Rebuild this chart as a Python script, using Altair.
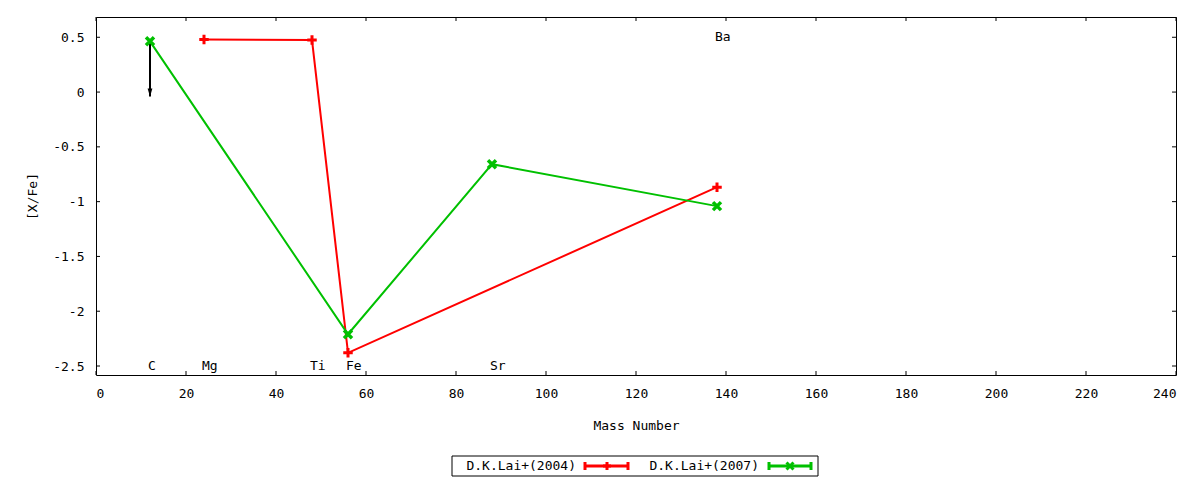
import altair as alt
import pandas as pd

# ---- data ----
lai2004_elem = ["Mg", "Ti", "Fe", "Ba"]
lai2004_mass = [24, 48, 56, 138]
lai2004_val = [0.48, 0.475, -2.38, -0.868]

lai2007_elem = ["C", "Fe", "Sr", "Ba"]
lai2007_mass = [12, 56, 88, 138]
lai2007_val = [0.463, -2.21, -0.658, -1.041]

# upper limit arrow (C, 2007)
arrow_mass = [12]
arrow_from = [0.463]
arrow_to = [-0.04]

label_text = ["C", "Mg", "Ti", "Fe", "Sr", "Ba"]
label_mass = [12, 24, 48, 56, 88, 138]
label_y = [-2.5, -2.5, -2.5, -2.5, -2.5, 0.5]

x_ticks = [0, 20, 40, 60, 80, 100, 120, 140, 160, 180, 200, 220, 240]
y_ticks = [0.5, 0, -0.5, -1, -1.5, -2, -2.5]

legend_names = ["D.K.Lai+(2004)", "D.K.Lai+(2007)"]

# ---- style ----
W, H = 1080, 358
FONT = "DejaVu Sans Mono"
RED = "#ff0000"
GREEN = "#00c000"
PLUS = "M-1,0L1,0M0,-1L0,1"
CROSS = "M-1,-1L1,1M-1,1L1,-1"
HEAD = "M-0.3,-1L0.3,-1L0,0Z"

xs = alt.Scale(domain=[0, 240], nice=False, zero=False)
ys = alt.Scale(domain=[-2.582, 0.685], nice=False, zero=False)

xaxis = alt.Axis(values=x_ticks, labelExpr="toString(datum.value)", grid=False,
                 ticks=False, tickSize=0, domain=False, labelPadding=12,
                 labelFont=FONT, labelFontSize=13, labelColor="black",
                 title="Mass Number", titleFont=FONT, titleFontSize=13,
                 titleFontWeight="normal", titleColor="black",
                 titleX=W / 2, titleY=50, titleBaseline="middle", titleAlign="center")
yaxis = alt.Axis(values=y_ticks, labelExpr="toString(datum.value)", grid=False,
                 ticks=False, tickSize=0, domain=False, labelPadding=12,
                 labelFont=FONT, labelFontSize=13, labelColor="black",
                 title="[X/Fe]", titleFont=FONT, titleFontSize=13,
                 titleFontWeight="normal", titleColor="black",
                 titleX=-64, titleY=H / 2, titleAngle=-90,
                 titleBaseline="middle", titleAlign="center")

d04 = pd.DataFrame({"elem": lai2004_elem, "mass": lai2004_mass, "val": lai2004_val})
d07 = pd.DataFrame({"elem": lai2007_elem, "mass": lai2007_mass, "val": lai2007_val})
darr = pd.DataFrame({"mass": arrow_mass, "y1": arrow_from, "y2": arrow_to})
dlab = pd.DataFrame({"t": label_text, "mass": label_mass, "y": label_y})
dxt = pd.DataFrame({"v": x_ticks})
dyt = pd.DataFrame({"v": y_ticks})
dleg = pd.DataFrame({"name": legend_names})

X = alt.X("mass:Q", scale=xs, axis=xaxis)
Y = alt.Y("val:Q", scale=ys, axis=yaxis)

red_line = alt.Chart(d04).mark_line(color=RED, strokeWidth=2).encode(x=X, y=Y)
red_pts = alt.Chart(d04).mark_point(shape=PLUS, color=RED, filled=False, strokeWidth=3,
                                    size=90, opacity=1).encode(x="mass:Q", y="val:Q")
green_line = alt.Chart(d07).mark_line(color=GREEN, strokeWidth=2).encode(x="mass:Q", y="val:Q")
green_pts = alt.Chart(d07).mark_point(shape=CROSS, color=GREEN, filled=False, strokeWidth=3.5,
                                      size=64, opacity=1).encode(x="mass:Q", y="val:Q")

arrow_line = alt.Chart(darr).mark_rule(color="black", strokeWidth=2).encode(
    x="mass:Q", y="y1:Q", y2="y2:Q")
arrow_head = alt.Chart(darr).mark_point(shape=HEAD, filled=True, color="black",
                                        size=256, opacity=1).encode(x="mass:Q", y="y2:Q")

labels = alt.Chart(dlab).mark_text(font=FONT, fontSize=13, color="black", align="left",
                                   baseline="middle", dx=-2).encode(
    x="mass:Q", y="y:Q", text="t:N")

xt_bot = alt.Chart(dxt).mark_rule(color="black", strokeWidth=1).encode(
    x=alt.X("v:Q", scale=xs), y=alt.value(H), y2=alt.value(H - 4))
xt_top = alt.Chart(dxt).mark_rule(color="black", strokeWidth=1).encode(
    x=alt.X("v:Q", scale=xs), y=alt.value(0), y2=alt.value(4))
yt_left = alt.Chart(dyt).mark_rule(color="black", strokeWidth=1).encode(
    y=alt.Y("v:Q", scale=ys), x=alt.value(0), x2=alt.value(4))
yt_right = alt.Chart(dyt).mark_rule(color="black", strokeWidth=1).encode(
    y=alt.Y("v:Q", scale=ys), x=alt.value(W), x2=alt.value(W - 4))

# ---- legend ----
one = pd.DataFrame({"k": [0]})
leg_box = alt.Chart(one).mark_rect(fill="white", stroke="black", strokeWidth=1).encode(
    x=alt.value(356), x2=alt.value(722), y=alt.value(439), y2=alt.value(459))
leg_t1 = alt.Chart(dleg.iloc[[0]]).mark_text(font=FONT, fontSize=13, color="black",
                                             align="right", baseline="middle").encode(
    x=alt.value(480), y=alt.value(449), text="name:N")
leg_t2 = alt.Chart(dleg.iloc[[1]]).mark_text(font=FONT, fontSize=13, color="black",
                                             align="right", baseline="middle").encode(
    x=alt.value(663), y=alt.value(449), text="name:N")
leg_l1 = alt.Chart(one).mark_rule(color=RED, strokeWidth=3).encode(
    x=alt.value(489), x2=alt.value(533), y=alt.value(449))
leg_l2 = alt.Chart(one).mark_rule(color=GREEN, strokeWidth=3).encode(
    x=alt.value(673), x2=alt.value(716), y=alt.value(449))
leg_e1 = alt.Chart(one).mark_rule(color=RED, strokeWidth=3).encode(
    x=alt.value(489), y=alt.value(445), y2=alt.value(453))
leg_e1b = alt.Chart(one).mark_rule(color=RED, strokeWidth=3).encode(
    x=alt.value(532), y=alt.value(445), y2=alt.value(453))
leg_e2 = alt.Chart(one).mark_rule(color=GREEN, strokeWidth=3).encode(
    x=alt.value(673), y=alt.value(445), y2=alt.value(453))
leg_e2b = alt.Chart(one).mark_rule(color=GREEN, strokeWidth=3).encode(
    x=alt.value(715), y=alt.value(445), y2=alt.value(453))
leg_p1 = alt.Chart(one).mark_point(shape=PLUS, color=RED, filled=False, strokeWidth=3,
                                   size=64, opacity=1).encode(x=alt.value(511), y=alt.value(449))
leg_p2 = alt.Chart(one).mark_point(shape=CROSS, color=GREEN, filled=False, strokeWidth=3,
                                   size=49, opacity=1).encode(x=alt.value(694), y=alt.value(449))

chart = alt.layer(
    red_line, green_line, arrow_line, arrow_head, red_pts, green_pts, labels,
    xt_bot, xt_top, yt_left, yt_right,
    leg_box, leg_t1, leg_t2, leg_l1, leg_l2, leg_e1, leg_e1b, leg_e2, leg_e2b, leg_p1, leg_p2,
).properties(
    width=W, height=H,
    autosize=alt.AutoSizeParams(type="none"),
    padding={"left": 88, "top": 9, "right": 8, "bottom": 105},
    background="white",
).configure_view(stroke="black", strokeWidth=1)

chart.save("out.html", embed_options={"renderer": "svg", "actions": False})
